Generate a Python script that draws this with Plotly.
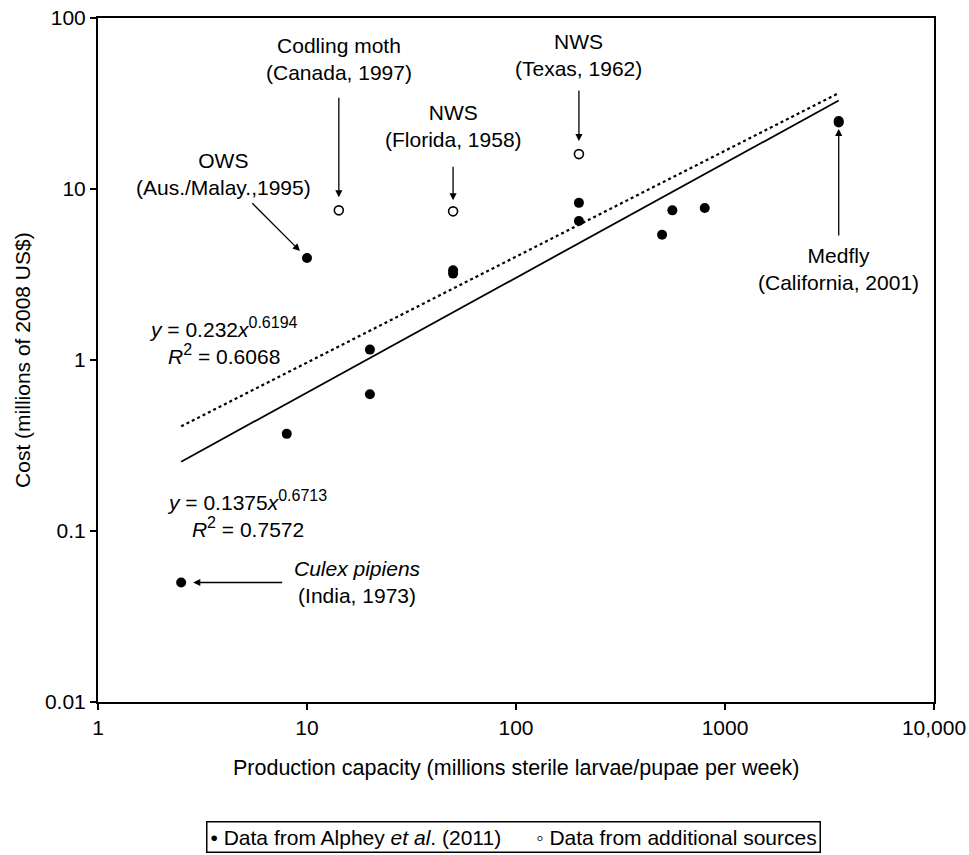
import math
import plotly.graph_objects as go

# Facilities reported by Alphey et al. (2011): capacity (millions/week) vs cost (millions of 2008 US$)
alphey_capacity = [2.5, 8, 10, 20, 20, 50, 50, 200, 200, 500, 560, 800, 3500, 3500]
alphey_cost = [0.05, 0.37, 3.95, 1.15, 0.63, 3.35, 3.2, 8.3, 6.5, 5.4, 7.5, 7.75, 25, 24.5]

# Facilities from additional sources
extra_capacity = [14.2, 50, 200]
extra_cost = [7.5, 7.4, 16]

# Power-law fits y = a * x^b
fit_all = {"a": 0.232, "b": 0.6194, "r2": 0.6068}
fit_alphey = {"a": 0.1375, "b": 0.6713, "r2": 0.7572}
fit_range = [2.5, 3500]

x_tickvals = [1, 10, 100, 1000, 10000]
x_ticktext = ["1", "10", "100", "1000", "10,000"]
y_tickvals = [0.01, 0.1, 1, 10, 100]
y_ticktext = ["0.01", "0.1", "1", "10", "100"]

FONT = "Liberation Sans, Arial, Helvetica, sans-serif"
TXT = dict(family=FONT, size=21, color="black")

fig = go.Figure()

fig.add_trace(go.Scatter(
    x=fit_range, y=[fit_all["a"] * v ** fit_all["b"] for v in fit_range],
    mode="lines", line=dict(color="black", width=2.2, dash="dot"),
    showlegend=False, hoverinfo="skip"))
fig.add_trace(go.Scatter(
    x=fit_range, y=[fit_alphey["a"] * v ** fit_alphey["b"] for v in fit_range],
    mode="lines", line=dict(color="black", width=1.8),
    showlegend=False, hoverinfo="skip"))

fig.add_trace(go.Scatter(
    x=alphey_capacity, y=alphey_cost, mode="markers",
    marker=dict(symbol="circle", size=10, color="black", line=dict(width=0)),
    name="Data from Alphey et al. (2011)", showlegend=False))
fig.add_trace(go.Scatter(
    x=extra_capacity, y=extra_cost, mode="markers",
    marker=dict(symbol="circle-open", size=9, color="black", line=dict(width=1.6)),
    name="Data from additional sources", showlegend=False))

L = math.log10
annotations = []


def callout(x, y, text, ax, ay, standoff, startstandoff):
    """Label placed at a pixel offset from a point, with an arrow to it."""
    annotations.append(dict(
        x=L(x), y=L(y), xref="x", yref="y", text=text, font=TXT, align="center",
        showarrow=True, ax=ax, ay=ay, arrowhead=2, arrowsize=1.1, arrowwidth=1.3,
        arrowcolor="black", standoff=standoff, startstandoff=startstandoff))


def label(x, y, text):
    annotations.append(dict(x=L(x), y=L(y), xref="x", yref="y", text=text,
                            showarrow=False, font=TXT, align="center",
                            xanchor="center", yanchor="middle"))


# Site callouts
callout(10, 3.95, "OWS<br>(Aus./Malay.,1995)", -84, -84, 10, 4)
callout(14.2, 7.5, "Codling moth<br>(Canada, 1997)", 0, -151, 13, 12)
callout(50, 7.4, "NWS<br>(Florida, 1958)", 0, -85, 11, 14)
callout(200, 16, "NWS<br>(Texas, 1962)", 0, -99, 13, 9)
callout(3500, 25, "Medfly<br>(California, 2001)", 0, 148, 8, 7)
callout(2.5, 0.05, "<i>Culex pipiens</i><br>(India, 1973)", 176, 0, 12, 10)


def equation(fit):
    return ("<i>y</i> = %s<i>x</i><sup><span style='font-size:16px'>%s</span></sup>"
            "<br><i>R</i><sup><span style='font-size:16px'>2</span></sup> = %s"
            % (fit["a"], fit["b"], fit["r2"]))


# Fit equations
label(4.0, 1.29, equation(fit_all))
label(5.16, 0.125, equation(fit_alphey))

# Axis titles
annotations.append(dict(xref="paper", yref="paper", x=-0.091, y=0.5, textangle=-90,
                        xanchor="center", yanchor="middle",
                        text="Cost (millions of 2008 US$)", showarrow=False, font=TXT))
annotations.append(dict(xref="paper", yref="paper", x=0.5, y=-0.097,
                        xanchor="center", yanchor="middle",
                        text="Production capacity (millions sterile larvae/pupae per week)",
                        showarrow=False, font=dict(family=FONT, size=21.5, color="black")))

# Key box
annotations.append(dict(xref="paper", yref="paper", x=0.497, y=-0.198,
                        xanchor="center", yanchor="middle",
                        text="\u2022 Data from Alphey <i>et al</i>. (2011)      \u25e6 Data from additional sources",
                        showarrow=False, font=TXT,
                        bordercolor="black", borderwidth=1.5, borderpad=3, bgcolor="white"))

axis_common = dict(type="log", showgrid=False, zeroline=False, showline=True,
                   linecolor="black", linewidth=2, mirror=True, ticks="outside",
                   ticklen=6, tickwidth=1.5, tickcolor="black",
                   tickfont=dict(family=FONT, size=21, color="black"))

fig.update_xaxes(range=[0, 4], tickvals=x_tickvals, ticktext=x_ticktext, **axis_common)
fig.update_yaxes(range=[-2, 2], tickvals=y_tickvals, ticktext=y_ticktext, **axis_common)

fig.update_layout(
    width=969, height=855,
    margin=dict(l=98, r=35, t=18, b=153, autoexpand=False),
    plot_bgcolor="white", paper_bgcolor="white",
    font=dict(family=FONT, color="black"),
    annotations=annotations,
    showlegend=False,
)

fig.write_html("out.html")
